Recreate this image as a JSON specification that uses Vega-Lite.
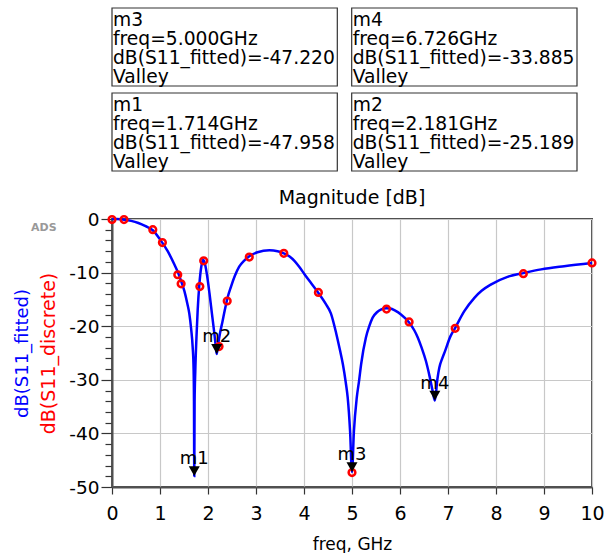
{
  "$schema": "https://vega.github.io/schema/vega-lite/v6.json",
  "padding": {"left": 12, "top": 7, "right": 5, "bottom": 0},
  "background": "white",
  "config": {
    "font": "DejaVu Sans",
    "view": {"stroke": null},
    "axis": {"labelFont": "DejaVu Sans", "titleFont": "DejaVu Sans", "labelColor": "black", "titleColor": "black", "titleFontWeight": "normal"},
    "concat": {"spacing": 16}
  },
  "datasets": {
    "markers": [
      {"marker": "m1", "freq": 1.714, "db": -47.958},
      {"marker": "m2", "freq": 2.181, "db": -25.189},
      {"marker": "m3", "freq": 5.0, "db": -47.22},
      {"marker": "m4", "freq": 6.726, "db": -33.885}
    ],
    "discrete": [
      {"freq": 0.0, "db": -0.1}, {"freq": 0.25, "db": -0.1}, {"freq": 0.85, "db": -2.0},
      {"freq": 1.05, "db": -4.4}, {"freq": 1.37, "db": -10.4}, {"freq": 1.44, "db": -12.1},
      {"freq": 1.83, "db": -12.6}, {"freq": 1.91, "db": -7.8}, {"freq": 2.23, "db": -23.8},
      {"freq": 2.4, "db": -15.3}, {"freq": 2.86, "db": -7.1}, {"freq": 3.58, "db": -6.4},
      {"freq": 4.3, "db": -13.7}, {"freq": 5.0, "db": -47.3}, {"freq": 5.72, "db": -16.8},
      {"freq": 6.19, "db": -19.2}, {"freq": 7.15, "db": -20.4}, {"freq": 8.57, "db": -10.2},
      {"freq": 10.0, "db": -8.2}
    ],
    "fitted": [
      {"freq": 0, "db": 0}, {"freq": 0.1, "db": -0.02}, {"freq": 0.25, "db": -0.12}, {"freq": 0.4, "db": -0.35},
      {"freq": 0.55, "db": -0.75}, {"freq": 0.7, "db": -1.35}, {"freq": 0.85, "db": -2.1}, {"freq": 1.0, "db": -3.8},
      {"freq": 1.16, "db": -6.0}, {"freq": 1.3, "db": -8.5}, {"freq": 1.38, "db": -10.1}, {"freq": 1.44, "db": -11.6},
      {"freq": 1.51, "db": -13.5}, {"freq": 1.57, "db": -15.8}, {"freq": 1.61, "db": -17.6}, {"freq": 1.65, "db": -20.6},
      {"freq": 1.68, "db": -23.8}, {"freq": 1.7, "db": -28}, {"freq": 1.708, "db": -34}, {"freq": 1.714, "db": -47.958},
      {"freq": 1.721, "db": -34}, {"freq": 1.735, "db": -28.5}, {"freq": 1.76, "db": -22}, {"freq": 1.785, "db": -17},
      {"freq": 1.82, "db": -12.2}, {"freq": 1.86, "db": -8.9}, {"freq": 1.9, "db": -7.6}, {"freq": 1.94, "db": -8.5},
      {"freq": 1.98, "db": -10.5}, {"freq": 2.03, "db": -13.8}, {"freq": 2.08, "db": -17.5}, {"freq": 2.13, "db": -21.2},
      {"freq": 2.16, "db": -23.6}, {"freq": 2.181, "db": -25.189}, {"freq": 2.21, "db": -23.4}, {"freq": 2.25, "db": -21.3},
      {"freq": 2.3, "db": -19.2}, {"freq": 2.35, "db": -17}, {"freq": 2.41, "db": -14.6}, {"freq": 2.48, "db": -12.6},
      {"freq": 2.56, "db": -10.6}, {"freq": 2.65, "db": -8.9}, {"freq": 2.76, "db": -7.7}, {"freq": 2.86, "db": -6.95},
      {"freq": 3.03, "db": -6.2}, {"freq": 3.28, "db": -5.85}, {"freq": 3.45, "db": -6.0}, {"freq": 3.58, "db": -6.4},
      {"freq": 3.7, "db": -7.0}, {"freq": 3.8, "db": -7.8}, {"freq": 3.9, "db": -8.9}, {"freq": 4.01, "db": -10.3},
      {"freq": 4.15, "db": -12.0}, {"freq": 4.3, "db": -13.8}, {"freq": 4.45, "db": -15.8}, {"freq": 4.56, "db": -17.6},
      {"freq": 4.67, "db": -21.3}, {"freq": 4.75, "db": -24.5}, {"freq": 4.81, "db": -27.1}, {"freq": 4.87, "db": -30.5},
      {"freq": 4.91, "db": -33.3}, {"freq": 4.96, "db": -39.6}, {"freq": 5.0, "db": -47.22}, {"freq": 5.04, "db": -39.6},
      {"freq": 5.1, "db": -33.3}, {"freq": 5.15, "db": -30}, {"freq": 5.19, "db": -27.1}, {"freq": 5.29, "db": -22.1},
      {"freq": 5.36, "db": -20}, {"freq": 5.43, "db": -18.4}, {"freq": 5.52, "db": -17.4}, {"freq": 5.6, "db": -16.9},
      {"freq": 5.72, "db": -16.65}, {"freq": 5.8, "db": -16.7}, {"freq": 5.9, "db": -17.1}, {"freq": 6.02, "db": -17.8},
      {"freq": 6.19, "db": -19.3}, {"freq": 6.3, "db": -20.8}, {"freq": 6.37, "db": -22.1}, {"freq": 6.45, "db": -24},
      {"freq": 6.54, "db": -26.5}, {"freq": 6.62, "db": -29.5}, {"freq": 6.68, "db": -32.1}, {"freq": 6.726, "db": -33.885},
      {"freq": 6.78, "db": -29.8}, {"freq": 6.82, "db": -27.7}, {"freq": 6.88, "db": -26}, {"freq": 6.94, "db": -24.6},
      {"freq": 7.05, "db": -21.9}, {"freq": 7.15, "db": -20.3}, {"freq": 7.34, "db": -17.2}, {"freq": 7.55, "db": -14.7},
      {"freq": 7.7, "db": -13.4}, {"freq": 7.9, "db": -12.2}, {"freq": 8.24, "db": -10.8}, {"freq": 8.57, "db": -10.1},
      {"freq": 8.94, "db": -9.4}, {"freq": 9.42, "db": -8.8}, {"freq": 10, "db": -8.2}
    ]
  },
  "vconcat": [
    {
      "width": 465,
      "height": 163,
      "data": {"name": "markers"},
      "transform": [
        {"calculate": "(datum.marker === 'm1' || datum.marker === 'm3') ? 'L' : 'R'", "as": "col"},
        {"calculate": "(datum.marker === 'm3' || datum.marker === 'm4') ? 'T' : 'B'", "as": "row"},
        {"calculate": "datum.marker + '\\nfreq=' + format(datum.freq, '.3f') + 'GHz\\ndB(S11_fitted)=' + (datum.db < 0 ? '-' : '') + format(abs(datum.db), '.3f') + '\\nValley'", "as": "label"}
      ],
      "layer": [
        {
          "mark": {"type": "rect", "fill": "white", "stroke": "#333333", "strokeWidth": 1.2},
          "encoding": {
            "x": {"field": "col", "type": "nominal", "scale": {"type": "band", "domain": ["L", "R"], "paddingInner": 0.06, "paddingOuter": 0}, "axis": null},
            "y": {"field": "row", "type": "nominal", "scale": {"type": "band", "domain": ["T", "B"], "paddingInner": 0.082, "paddingOuter": 0}, "axis": null}
          }
        },
        {
          "mark": {"type": "text", "align": "left", "baseline": "top", "dx": 1, "dy": 3, "fontSize": 18.7, "lineHeight": 19, "lineBreak": "\n", "font": "DejaVu Sans", "color": "black"},
          "encoding": {
            "x": {"field": "col", "type": "nominal", "bandPosition": 0, "scale": {"type": "band", "domain": ["L", "R"], "paddingInner": 0.06, "paddingOuter": 0}, "axis": null},
            "y": {"field": "row", "type": "nominal", "bandPosition": 0, "scale": {"type": "band", "domain": ["T", "B"], "paddingInner": 0.082, "paddingOuter": 0}, "axis": null},
            "text": {"field": "label"}
          }
        }
      ]
    },
    {
      "width": 480,
      "height": 268,
      "title": {"text": "Magnitude [dB]", "fontSize": 19, "font": "DejaVu Sans", "fontWeight": "normal", "color": "black", "offset": 2, "anchor": "middle"},
      "view": {"stroke": "#505050", "strokeWidth": 2},
      "layer": [
        {
          "data": {"name": "fitted"},
          "mark": {"type": "line", "color": "#0000ff", "strokeWidth": 2.5, "interpolate": "monotone"},
          "encoding": {
            "x": {
              "field": "freq", "type": "quantitative", "title": "freq, GHz",
              "scale": {"domain": [0, 10], "nice": false, "zero": false},
              "axis": {
                "values": [0, 0.5, 1, 1.5, 2, 2.5, 3, 3.5, 4, 4.5, 5, 5.5, 6, 6.5, 7, 7.5, 8, 8.5, 9, 9.5, 10],
                "labelExpr": "datum.value % 1 === 0 ? format(datum.value, 'd') : ''",
                "grid": true, "gridColor": "#c8c8c8", "gridWidth": 1.2,
                "gridOpacity": {"condition": {"test": "datum.value % 1 !== 0", "value": 0}, "value": 1},
                "tickSize": {"condition": {"test": "datum.value % 1 === 0", "value": 7}, "value": 4},
                "tickColor": "#333333", "tickWidth": 1.2,
                "domainColor": "#505050", "domainWidth": 2,
                "labelFontSize": 19, "labelPadding": 10, "labelFlush": false, "labelOverlap": false,
                "titleFontSize": 17, "titlePadding": 13
              }
            },
            "y": {
              "field": "db", "type": "quantitative",
              "scale": {"domain": [-50, 0], "nice": false, "zero": false},
              "axis": {"orient": "left", "title": "dB(S11_fitted)", "titleColor": "#0000ff", "titleFontSize": 18, "labels": false, "ticks": false, "domain": false, "grid": false, "titlePadding": 81}
            }
          }
        },
        {
          "data": {"name": "discrete"},
          "mark": {"type": "point", "shape": "circle", "filled": false, "stroke": "#ff0000", "strokeWidth": 2.5, "size": 45, "opacity": 1},
          "encoding": {
            "x": {"field": "freq", "type": "quantitative", "title": "freq, GHz"},
            "y": {
              "field": "db", "type": "quantitative",
              "scale": {"domain": [-50, 0], "nice": false, "zero": false},
              "axis": {
                "orient": "left",
                "values": [-50, -48, -46, -44, -42, -40, -38, -36, -34, -32, -30, -28, -26, -24, -22, -20, -18, -16, -14, -12, -10, -8, -6, -4, -2, 0],
                "labelExpr": "datum.value % 10 === 0 ? ((datum.value < 0 ? '-' : '') + format(abs(datum.value), 'd')) : ''",
                "grid": true, "gridColor": "#c8c8c8", "gridWidth": 1.2,
                "gridOpacity": {"condition": {"test": "datum.value % 10 !== 0", "value": 0}, "value": 1},
                "tickSize": {"condition": {"test": "datum.value % 10 === 0", "value": 11}, "value": 7},
                "tickColor": "#333333", "tickWidth": 1.2,
                "domainColor": "#505050", "domainWidth": 2,
                "labelFontSize": 18.5, "labelPadding": 2, "labelOverlap": false,
                "title": "dB(S11_discrete)", "titleColor": "#ff0000", "titleFontSize": 19, "titlePadding": 10
              }
            }
          }
        },
        {
          "data": {"name": "markers"},
          "mark": {"type": "point", "shape": "M-1,-1.8L1,-1.8L0,0Z", "filled": true, "color": "black", "size": 121, "opacity": 1},
          "encoding": {
            "x": {"field": "freq", "type": "quantitative", "title": "freq, GHz"},
            "y": {"field": "db", "type": "quantitative", "scale": {"domain": [-50, 0], "nice": false, "zero": false}, "axis": null}
          }
        },
        {
          "data": {"name": "markers"},
          "mark": {"type": "text", "dy": -12, "fontSize": 18, "align": "center", "baseline": "alphabetic", "font": "DejaVu Sans", "color": "black"},
          "encoding": {
            "x": {"field": "freq", "type": "quantitative", "title": "freq, GHz"},
            "y": {"field": "db", "type": "quantitative", "scale": {"domain": [-50, 0], "nice": false, "zero": false}, "axis": null},
            "text": {"field": "marker"}
          }
        },
        {
          "data": {"values": [{"tag": "ADS"}]},
          "mark": {"type": "text", "fontSize": 11, "fontWeight": "bold", "color": "#999999", "align": "center", "baseline": "middle", "font": "DejaVu Sans"},
          "encoding": {
            "x": {"datum": -1.42, "type": "quantitative"},
            "y": {"datum": -1.7, "type": "quantitative", "scale": {"domain": [-50, 0], "nice": false, "zero": false}, "axis": null},
            "text": {"field": "tag"}
          }
        }
      ],
      "resolve": {"scale": {"y": "independent"}}
    }
  ]
}
